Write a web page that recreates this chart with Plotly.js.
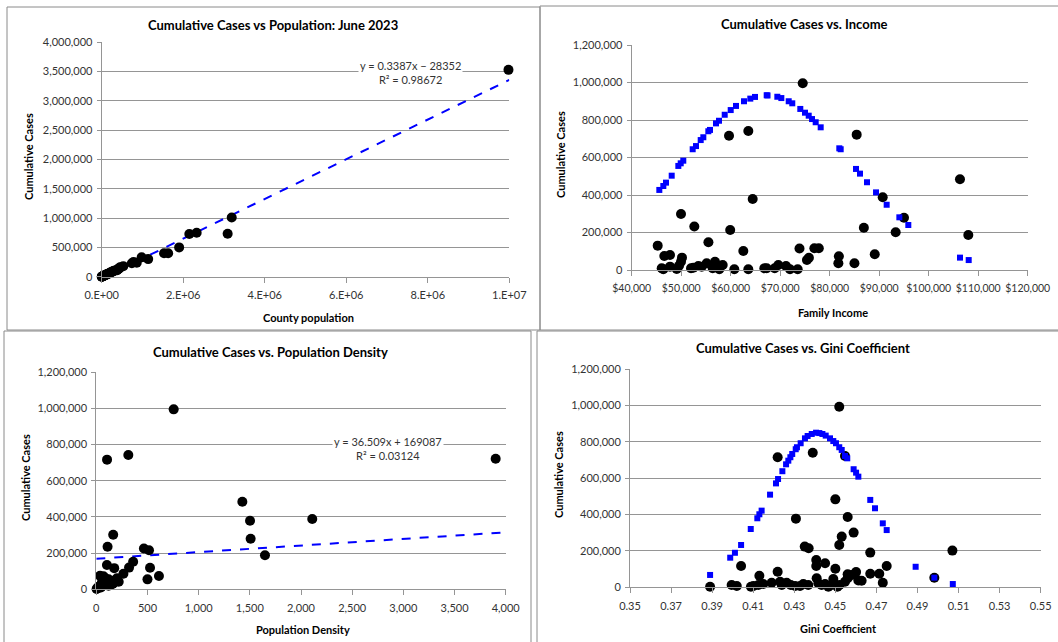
<!DOCTYPE html>
<html><head><meta charset="utf-8">
<script src="https://cdn.plot.ly/plotly-3.0.1.min.js"></script>
<style>html,body{margin:0;padding:0;background:#fff;}#chart{width:1058px;height:642px;}</style>
</head><body><div id="chart"></div>
<script>
// ---------- Panel 1: Cumulative cases vs population ----------
const popX = [9980000,3190000,3090000,2330000,2150000,1900000,1630000,1530000,1140000,980000,860000,780000,740000,530000,450000,440000,420000,390000,380000,350000,300000,280000,270000,250000,220000,200000,190000,180000,150000,140000,130000,110000,100000,90000,70000,64000,55000,45000,30000,28000,20000,18000,10000,3000,1100];
const popCases = [3530000,1010000,734000,750000,730000,500000,400000,400000,300000,330000,240000,250000,230000,180000,160000,150000,135000,125000,110000,112000,100000,95000,88000,80000,75000,65000,55000,60000,47000,45000,42000,36000,30000,28000,22000,20000,16000,14000,9000,8000,7000,5000,3000,1000,300];
const popTrend = {slope:0.3387, intercept:-28352, xStart:0, xEnd:10000000};
const popTickVals = [0,2000000,4000000,6000000,8000000,10000000];
const popTickText = ["0.E+00","2.E+06","4.E+06","6.E+06","8.E+06","1.E+07"];

// ---------- Panel 2: Cumulative cases vs family income ----------
const incX = [74550,63560,59660,85450,106320,90710,64440,49960,95010,52650,86900,59900,93330,108000,55500,45250,62550,73900,76900,77800,89100,81850,81750,85000,75800,75400,46590,47740,50160,49960,49560,46060,46390,47740,49090,51980,52450,53460,54140,55150,56360,56830,57700,58380,60730,63560,66790,67270,68890,69620,71170,71980,73530];
const incCases = [996000,741000,716000,722000,484000,388000,379000,299000,279000,232000,225000,213000,201000,187000,148000,130000,101000,115000,116000,116000,84000,73000,36000,36000,65000,53000,75000,80000,66000,44000,23000,9000,4000,18000,5000,9000,12000,21000,18000,36000,9000,44000,4000,27000,4000,4000,9000,9000,9000,27000,21000,4000,4000];
const incFitX = [45580,46390,46930,48080,49420,49900,50420,52320,52990,53940,54470,55480,55820,57030,57640,58790,60000,61070,62690,63960,64910,67270,67440,69420,70230,71720,72440,74060,75010,75760,76430,77170,78180,81940,82220,85310,86120,87540,89360,91510,94070,95880,106320,108080];
const incFitY = [427000,448000,466000,503000,555000,569000,583000,644000,661000,693000,708000,740000,747000,782000,796000,828000,853000,875000,900000,914000,923000,932000,931000,924000,917000,900000,889000,859000,839000,823000,805000,788000,761000,649000,644000,539000,514000,468000,414000,348000,281000,240000,66000,53000];
const incTickVals = [40000,50000,60000,70000,80000,90000,100000,110000,120000];
const incTickText = ["$40,000","$50,000","$60,000","$70,000","$80,000","$90,000","$100,000","$110,000","$120,000"];

// ---------- Panel 3: Cumulative cases vs population density ----------
const denX = [756,313,105,3902,1427,1502,2110,1508,1648,165,110,465,515,525,500,612,360,320,265,104,175,70,56,23,3,104,219,137,202,153,10,15,30,40,50,60,80,90,120,130,160,180,190,85,95,75,45,120,170,36];
const denCases = [995000,743000,717000,722000,484000,379000,389000,280000,188000,302000,235000,226000,216000,119000,55000,74000,152000,120000,86000,134000,117000,72000,42000,14000,2000,33000,42000,24000,61000,42000,5000,8000,12000,20000,25000,18000,30000,50000,55000,38000,30000,48000,52000,62000,45000,28000,10000,20000,35000,75000];
const denTrend = {slope:36.509, intercept:169087, xStart:0, xEnd:4000};

// ---------- Panel 4: Cumulative cases vs Gini coefficient ----------
const giniX = [0.4519,0.4390,0.4219,0.4547,0.4500,0.4560,0.4308,0.4589,0.4531,0.4519,0.4351,0.4370,0.5070,0.4670,0.4041,0.4750,0.4407,0.4407,0.4450,0.4500,0.4219,0.4130,0.4601,0.4670,0.4714,0.4560,0.4560,0.4409,0.4490,0.4612,0.4982,0.4731,0.3890,0.3995,0.4020,0.4089,0.4101,0.4125,0.4149,0.4190,0.4231,0.4239,0.4263,0.4283,0.4304,0.4328,0.4344,0.4368,0.4417,0.4433,0.4450,0.4466,0.4480,0.4510,0.4520,0.4547,0.4580,0.4628];
const giniCases = [994000,741000,716000,723000,484000,387000,378000,301000,279000,233000,224000,215000,202000,191000,117000,117000,150000,117000,132000,102000,86000,64000,84000,75000,75000,72000,50000,50000,46000,38000,53000,25000,3000,13000,7000,3000,7000,13000,18000,25000,31000,13000,25000,13000,7000,7000,18000,13000,22000,13000,18000,3000,13000,3000,13000,31000,68000,36000];
const giniFitX = [0.3890,0.3988,0.4011,0.4041,0.4088,0.4120,0.4130,0.4141,0.4182,0.4211,0.4221,0.4242,0.4260,0.4271,0.4281,0.4290,0.4307,0.4313,0.4331,0.4352,0.4365,0.4385,0.4406,0.4422,0.4437,0.4453,0.4474,0.4490,0.4503,0.4519,0.4531,0.4547,0.4558,0.4589,0.4601,0.4612,0.4670,0.4693,0.4731,0.4750,0.4891,0.4982,0.5072];
const giniFitY = [68000,163000,190000,233000,321000,380000,402000,422000,510000,572000,596000,639000,677000,697000,716000,734000,760000,771000,793000,820000,833000,844000,851000,849000,844000,835000,820000,805000,793000,771000,756000,723000,710000,650000,631000,609000,481000,435000,352000,315000,113000,53000,18000];

// ---------- Text ----------
const titles = ["Cumulative Cases vs Population: June 2023","Cumulative Cases vs. Income","Cumulative Cases vs. Population Density","Cumulative Cases vs. Gini Coefficient"];
const xTitles = ["County population","Family Income","Population Density","Gini Coefficient"];
const yTitle = "Cumulative Cases";
const popEq = "y = 0.3387x − 28352<br>R² = 0.98672";
const denEq = "y = 36.509x + 169087<br>R² = 0.03124";

// ---------- Layout helpers ----------
const W = 1058, H = 642;
const px = v => v / W;
const py = v => 1 - v / H;
const FONT = "Lato, 'Open Sans', sans-serif";
const BLUE = "#0000ff";
const GRID = "#959595";

const dot = {color:"#000", size:10, symbol:"circle"};
const sq = {color:BLUE, size:6, symbol:"square"};

function line(tr){ return {x:[tr.xStart,tr.xEnd], y:[tr.slope*tr.xStart+tr.intercept, tr.slope*tr.xEnd+tr.intercept]}; }
const l1 = line(popTrend), l3 = line(denTrend);

const traces = [
  {x:l1.x, y:l1.y, mode:"lines", line:{color:BLUE, width:2, dash:"dash"}, xaxis:"x", yaxis:"y", hoverinfo:"skip"},
  {x:popX, y:popCases, mode:"markers", marker:dot, xaxis:"x", yaxis:"y", cliponaxis:false},
  {x:incX, y:incCases, mode:"markers", marker:dot, xaxis:"x2", yaxis:"y2", cliponaxis:false},
  {x:incFitX, y:incFitY, mode:"markers", marker:sq, xaxis:"x2", yaxis:"y2", cliponaxis:false},
  {x:l3.x, y:l3.y, mode:"lines", line:{color:BLUE, width:2, dash:"dash"}, xaxis:"x3", yaxis:"y3", hoverinfo:"skip"},
  {x:denX, y:denCases, mode:"markers", marker:dot, xaxis:"x3", yaxis:"y3", cliponaxis:false},
  {x:giniX, y:giniCases, mode:"markers", marker:dot, xaxis:"x4", yaxis:"y4", cliponaxis:false},
  {x:giniFitX, y:giniFitY, mode:"markers", marker:sq, xaxis:"x4", yaxis:"y4", cliponaxis:false}
];

const tickFont = {family:FONT, size:11, color:"#333"};
function xa(dom, anchor, extra){ return Object.assign({domain:dom, anchor:anchor, showgrid:false, zeroline:false, showline:true, linecolor:GRID, linewidth:1, ticks:"outside", ticklen:5, tickcolor:GRID, tickfont:tickFont, tickangle:0, ticklabelstandoff:3, fixedrange:true}, extra); }
function ya(dom, anchor, extra){ return Object.assign({domain:dom, anchor:anchor, showgrid:true, gridcolor:GRID, gridwidth:1, zeroline:false, showline:true, linecolor:GRID, linewidth:1, ticks:"outside", ticklen:4, tickcolor:GRID, tickfont:tickFont, tickformat:",", ticklabelstandoff:2, fixedrange:true}, extra); }

const layout = {
  width:W, height:H, margin:{l:0,r:0,t:0,b:0}, showlegend:false,
  paper_bgcolor:"#fff", plot_bgcolor:"#fff", font:{family:FONT, color:"#000"},
  xaxis: xa([px(101.7),px(509.3)], "y", {range:[0,10000000], tickvals:popTickVals, ticktext:popTickText}),
  yaxis: ya([py(276.7),py(42.3)], "x", {range:[0,4000000], dtick:500000}),
  xaxis2: xa([px(631.7),px(1027.7)], "y2", {range:[40000,120000], tickvals:incTickVals, ticktext:incTickText, tickfont:{family:FONT, size:10.5, color:"#333"}}),
  yaxis2: ya([py(270),py(45)], "x2", {range:[0,1200000], dtick:200000}),
  xaxis3: xa([px(96.3),px(505.7)], "y3", {range:[0,4000], dtick:500, tickformat:","}),
  yaxis3: ya([py(589.3),py(372.3)], "x3", {range:[0,1200000], dtick:200000}),
  xaxis4: xa([px(630),px(1040.7)], "y4", {range:[0.35,0.55], tick0:0.35, dtick:0.02, tickformat:".2f"}),
  yaxis4: ya([py(587.3),py(369.3)], "x4", {range:[0,1200000], dtick:200000}),
  shapes: [
    {type:"rect", xref:"paper", yref:"paper", x0:px(7), x1:px(540), y0:py(7), y1:py(330), line:{color:"#8a8a8a", width:1}, layer:"below"},
    {type:"rect", xref:"paper", yref:"paper", x0:px(540), x1:px(1060), y0:py(6), y1:py(330), line:{color:"#8a8a8a", width:1}, layer:"below"},
    {type:"rect", xref:"paper", yref:"paper", x0:px(4), x1:px(531), y0:py(331), y1:py(650), line:{color:"#8a8a8a", width:1}, layer:"below"},
    {type:"rect", xref:"paper", yref:"paper", x0:px(537), x1:px(1060), y0:py(331), y1:py(650), line:{color:"#8a8a8a", width:1}, layer:"below"}
  ],
  annotations: []
};

const ttlFont = {family:FONT, size:13, color:"#000", weight:"bold"};
const axFont = {family:FONT, size:11, color:"#000", weight:"bold"};
const titlePos = [[273,25],[804,24],[270,352],[803,348]];
const xTitlePos = [[308,317],[833,312],[303,629],[838,628]];
const yTitlePos = [[29,157],[561,155],[25,478],[558,475]];
for (let i=0;i<4;i++){
  layout.annotations.push({text:"<b>"+titles[i]+"</b>", xref:"paper", yref:"paper", x:px(titlePos[i][0]), y:py(titlePos[i][1]), xanchor:"center", yanchor:"middle", showarrow:false, font:ttlFont});
  layout.annotations.push({text:"<b>"+xTitles[i]+"</b>", xref:"paper", yref:"paper", x:px(xTitlePos[i][0]), y:py(xTitlePos[i][1]), xanchor:"center", yanchor:"middle", showarrow:false, font:axFont});
  layout.annotations.push({text:"<b>"+yTitle+"</b>", xref:"paper", yref:"paper", x:px(yTitlePos[i][0]), y:py(yTitlePos[i][1]), xanchor:"center", yanchor:"middle", showarrow:false, textangle:-90, font:axFont});
}
layout.annotations.push({text:popEq, xref:"paper", yref:"paper", x:px(410), y:py(72), xanchor:"center", yanchor:"middle", showarrow:false, align:"center", bgcolor:"#fff", font:{family:FONT, size:11, color:"#333"}});
layout.annotations.push({text:denEq, xref:"paper", yref:"paper", x:px(388), y:py(448), xanchor:"center", yanchor:"middle", showarrow:false, align:"center", bgcolor:"#fff", font:{family:FONT, size:11, color:"#333"}});

Plotly.newPlot("chart", traces, layout, {staticPlot:true, displayModeBar:false});
</script></body></html>
